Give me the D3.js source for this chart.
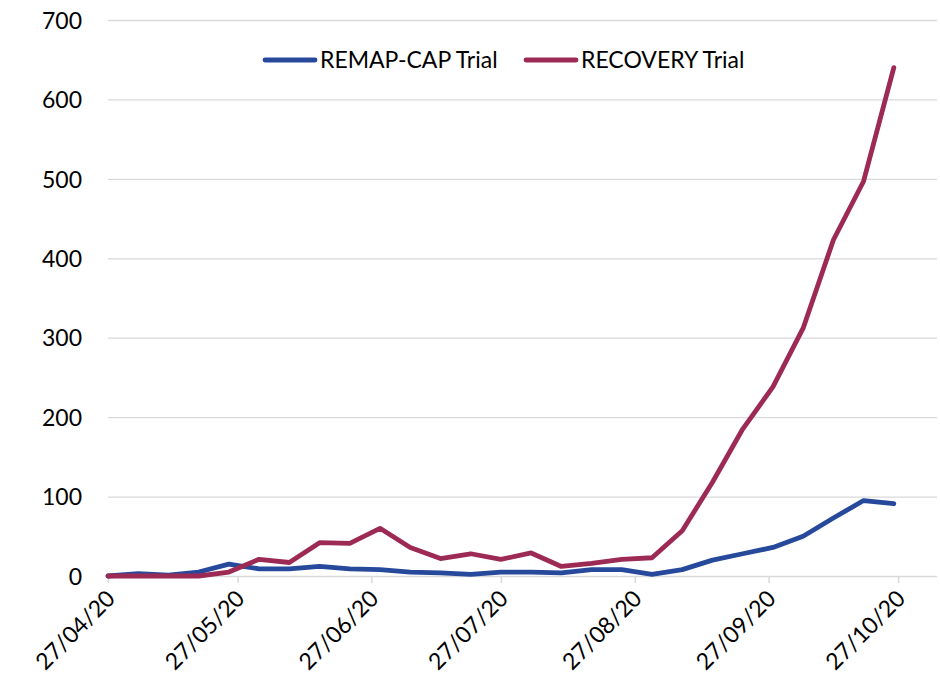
<!DOCTYPE html>
<html>
<head>
<meta charset="utf-8">
<script src="https://cdn.jsdelivr.net/npm/d3@7"></script>
<style>
  body { margin: 0; background: #fff; }
  text { font-family: Lato, "Open Sans", sans-serif; fill: #000; }
</style>
</head>
<body>
<div id="vis1"></div>
<script>
const dates = ["27/04/20", "04/05/20", "11/05/20", "18/05/20", "25/05/20", "01/06/20", "08/06/20",
  "15/06/20", "22/06/20", "29/06/20", "06/07/20", "13/07/20", "20/07/20", "27/07/20", "03/08/20",
  "10/08/20", "17/08/20", "24/08/20", "31/08/20", "07/09/20", "14/09/20", "21/09/20", "28/09/20",
  "05/10/20", "12/10/20", "19/10/20", "26/10/20"];
const remap_cap = [0, 3, 1, 5, 15, 9, 9, 12, 9, 8, 5, 4, 2, 5, 5, 4, 8, 8, 2, 8, 20, 28, 36, 50, 73, 95, 91];
const recovery = [0, 0, 0, 0, 5, 21, 17, 42, 41, 60, 36, 22, 28, 21, 29, 12, 16, 21, 23, 57, 118, 185, 238, 312, 423, 497, 640];
const series_names = ["REMAP-CAP Trial", "RECOVERY Trial"];
const series_colors = ["#27499b", "#9c2a54"];
const y_ticks = [0, 100, 200, 300, 400, 500, 600, 700];
const x_tick_labels = ["27/04/20", "27/05/20", "27/06/20", "27/07/20", "27/08/20", "27/09/20", "27/10/20"];

const frame_width = 940;
const frame_height = 677;
const margins = {left: 108, right: 3, top: 20, bottom: 101};

const parse = d3.timeParse("%d/%m/%y");
const fmt = d3.timeFormat("%d/%m/%y");

const x_scale =
d3.scaleTime()
    .domain([parse("27/04/20"), parse("05/11/20")])
    .range([margins.left, frame_width - margins.right]);

const y_scale =
d3.scaleLinear()
    .domain([0, 700])
    .range([frame_height - margins.bottom, margins.top]);

const frame1 =
d3.select("#vis1")
    .append("svg")
        .attr("width", frame_width)
        .attr("height", frame_height);

// gridlines
frame1.append("g")
    .attr("transform", "translate(" + margins.left + ",0)")
    .call(
        d3.axisLeft(y_scale)
            .tickValues(y_ticks)
            .tickSize(-(frame_width - margins.right - margins.left))
            .tickPadding(26)
            .tickFormat(d3.format("d"))
        )
    .call(g => g.select(".domain").remove())
    .call(g => g.selectAll("line").attr("stroke", "#d9d9d9").attr("stroke-width", 1.3))
    .call(g => g.selectAll("text").attr("font-size", "23px").attr("dy", "0.36em"));

// x axis with date ticks
const x_axis =
frame1.append("g")
    .attr("transform", "translate(0," + y_scale(0) + ")")
    .call(
        d3.axisBottom(x_scale)
            .tickValues(x_tick_labels.map(parse))
            .tickSize(7)
            .tickFormat(fmt)
        );

x_axis.select(".domain").remove();
x_axis.selectAll("line").attr("stroke", "#d9d9d9").attr("stroke-width", 1.5);
x_axis.selectAll("text")
    .attr("font-size", "23px")
    .attr("text-anchor", "end")
    .attr("dy", null)
    .attr("y", 0)
    .attr("transform", "translate(8,24) rotate(-45)");

const all_series = [remap_cap, recovery];

const line = d3.line()
    .x((d, i) => x_scale(parse(dates[i])))
    .y((d) => y_scale(d));

frame1.selectAll("path.series")
    .data(all_series)
    .enter()
    .append("path")
        .attr("class", "series")
        .attr("d", (d) => line(d))
        .attr("fill", "none")
        .attr("stroke", (d, i) => series_colors[i])
        .attr("stroke-width", 4.8)
        .attr("stroke-linejoin", "round")
        .attr("stroke-linecap", "round");

// legend
const legend_x = [265, 526];
const legend =
frame1.selectAll("g.legend")
    .data(series_names)
    .enter()
    .append("g")
        .attr("class", "legend")
        .attr("transform", (d, i) => "translate(" + legend_x[i] + ",60)");

legend.append("line")
    .attr("x1", 0)
    .attr("x2", 50)
    .attr("stroke", (d, i) => series_colors[i])
    .attr("stroke-width", 4.8)
    .attr("stroke-linecap", "round");

legend.append("text")
    .attr("x", 55)
    .attr("y", 8)
    .attr("font-size", "23px")
    .text((d) => d);
</script>
</body>
</html>
